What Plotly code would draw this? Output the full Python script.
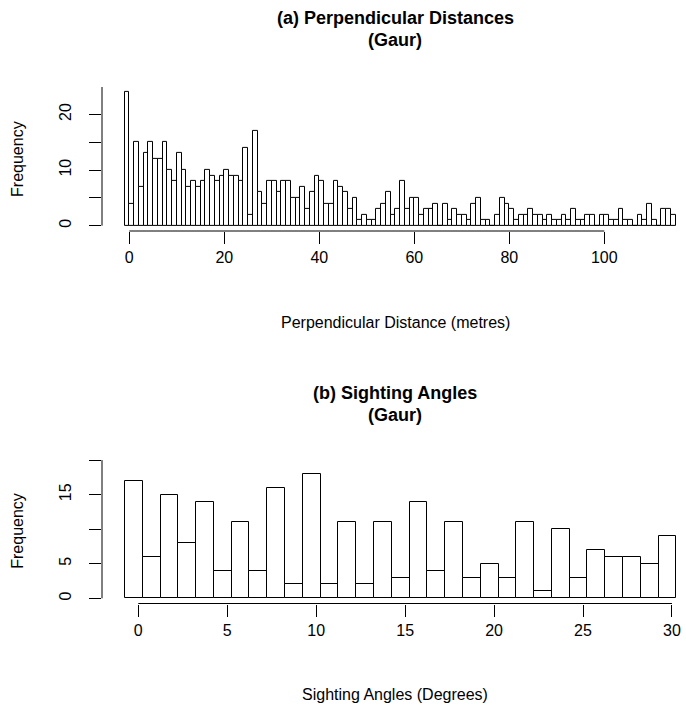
import numpy as np
import plotly.graph_objects as go

# Perpendicular distance histogram: unit-width bins starting at -1 m
dist_first_break = -1.0
dist_bin_width = 1.0
dist_counts = [
    24, 4, 15, 7, 13, 15, 12, 12, 15, 10, 8, 13, 10, 7, 8, 7, 8, 10, 9, 8,
    9, 10, 9, 9, 8, 14, 2, 17, 6, 4, 8, 8, 6, 8, 8, 5, 5, 7, 3, 6,
    9, 8, 4, 4, 8, 7, 6, 3, 5, 1, 2, 1, 1, 3, 4, 6, 2, 3, 8, 3,
    5, 5, 2, 3, 3, 4, 0, 4, 1, 3, 2, 2, 1, 4, 5, 1, 1, 0, 2, 5,
    4, 3, 1, 2, 2, 3, 2, 2, 1, 2, 1, 1, 2, 1, 3, 1, 1, 2, 2, 0,
    2, 2, 1, 1, 3, 1, 1, 0, 2, 1, 4, 1, 0, 3, 3, 2,
]
dist_xticks = [0, 20, 40, 60, 80, 100]
dist_yticks = [0, 5, 10, 15, 20, 25]
dist_ylabels = ["0", "", "10", "", "20", ""]

# Sighting angle histogram: unit-width bins starting at -0.75 degrees
angle_first_break = -0.75
angle_bin_width = 1.0
angle_counts = [17, 6, 15, 8, 14, 4, 11, 4, 16, 2, 18, 2, 11, 2, 11, 3,
                14, 4, 11, 3, 5, 3, 11, 1, 10, 3, 7, 6, 6, 5, 9]
angle_xticks = [0, 5, 10, 15, 20, 25, 30]
angle_yticks = [0, 5, 10, 15, 20]
angle_ylabels = ["0", "5", "", "15", ""]

W, H = 686, 708
FONT = "Liberation Sans, Arial, Helvetica, sans-serif"


def fx(px):
    return px / W


def fy(px):
    return 1 - px / H


def centers(first, width, counts):
    return first + width * (np.arange(len(counts)) + 0.5)


bar_style = dict(color="white", line=dict(color="black", width=1))

fig = go.Figure()
fig.add_trace(go.Bar(
    x=centers(dist_first_break, dist_bin_width, dist_counts), y=dist_counts,
    width=dist_bin_width, marker=bar_style, xaxis="x", yaxis="y",
    showlegend=False, hoverinfo="x+y"))
fig.add_trace(go.Bar(
    x=centers(angle_first_break, angle_bin_width, angle_counts), y=angle_counts,
    width=angle_bin_width, marker=bar_style, xaxis="x2", yaxis="y2",
    showlegend=False, hoverinfo="x+y"))

tick_font = dict(family=FONT, size=16, color="black")
common_x = dict(showgrid=False, zeroline=False, showline=False, ticks="outside",
                ticklen=12, tickwidth=1, tickcolor="black", tickfont=tick_font,
                fixedrange=True)
common_y = dict(showgrid=False, zeroline=False, showline=False, ticks="outside",
                ticklen=12, tickwidth=1, tickcolor="black", tickfont=tick_font,
                tickangle=-90, ticklabelstandoff=12, fixedrange=True)

# panel geometry (pixels)
left_px = 102
top_plot = (86.9, 231.0)
bot_plot = (458.0, 603.5)

fig.update_layout(
    width=W, height=H,
    margin=dict(l=0, r=0, t=0, b=0),
    paper_bgcolor="white", plot_bgcolor="white",
    bargap=0,
    xaxis=dict(domain=[fx(left_px), 1], range=[-5.75, 117.2],
               tickmode="array", tickvals=dist_xticks,
               ticktext=[str(v) for v in dist_xticks], anchor="y", **common_x),
    yaxis=dict(domain=[fy(top_plot[1]), fy(top_plot[0])], range=[-0.96, 24.96],
               tickmode="array", tickvals=dist_yticks, ticktext=dist_ylabels,
               anchor="x", **common_y),
    xaxis2=dict(domain=[fx(left_px), 1], range=[-2.04, 30.79],
                tickmode="array", tickvals=angle_xticks,
                ticktext=[str(v) for v in angle_xticks], anchor="y2", **common_x),
    yaxis2=dict(domain=[fy(bot_plot[1]), fy(bot_plot[0])], range=[-0.75, 20.3],
                tickmode="array", tickvals=angle_yticks, ticktext=angle_ylabels,
                anchor="x2", **common_y),
)

# axis lines spanning first to last tick
line = dict(color="black", width=1)
fig.add_shape(type="line", xref="x", yref="paper", x0=dist_xticks[0], x1=dist_xticks[-1],
              y0=fy(top_plot[1]), y1=fy(top_plot[1]), line=line)
fig.add_shape(type="line", xref="paper", yref="y", x0=fx(left_px), x1=fx(left_px),
              y0=dist_yticks[0], y1=dist_yticks[-1], line=line)
fig.add_shape(type="line", xref="x2", yref="paper", x0=angle_xticks[0], x1=angle_xticks[-1],
              y0=fy(bot_plot[1]), y1=fy(bot_plot[1]), line=line)
fig.add_shape(type="line", xref="paper", yref="y2", x0=fx(left_px), x1=fx(left_px),
              y0=angle_yticks[0], y1=angle_yticks[-1], line=line)


def label(text, xpx, ypx, size=16, bold=False, angle=0):
    fig.add_annotation(text=f"<b>{text}</b>" if bold else text,
                       x=fx(xpx), y=fy(ypx), xref="paper", yref="paper",
                       showarrow=False, textangle=angle, xanchor="center",
                       yanchor="middle", font=dict(family=FONT, size=size, color="black"))


cx = 395
label("(a) Perpendicular Distances", cx, 18, size=18, bold=True)
label("(Gaur)", cx, 40, size=18, bold=True)
label("Perpendicular Distance (metres)", cx, 322)
label("Frequency", 18, sum(top_plot) / 2, angle=-90)

label("(b) Sighting Angles", cx, 393, size=18, bold=True)
label("(Gaur)", cx, 415, size=18, bold=True)
label("Sighting Angles (Degrees)", cx, 694)
label("Frequency", 18, sum(bot_plot) / 2, angle=-90)

fig.write_html("out.html")
